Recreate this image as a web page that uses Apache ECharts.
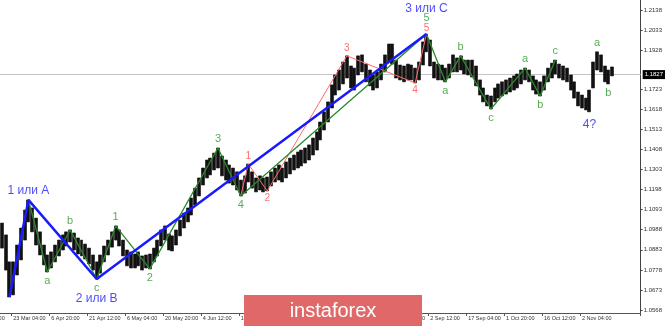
<!DOCTYPE html>
<html><head><meta charset="utf-8">
<script src="https://cdn.jsdelivr.net/npm/echarts@6/dist/echarts.min.js"></script>
<style>html,body{margin:0;padding:0;background:#fff}#c{width:665px;height:326px}</style>
</head><body><div id="c"></div>
<script>
// ---- data ----
const xTickLabels = ['6 Mar 12:00','23 Mar 04:00','6 Apr 20:00','21 Apr 12:00','6 May 04:00','20 May 20:00','4 Jun 12:00','19 Jun 04:00','3 Jul 20:00','20 Jul 12:00','4 Aug 04:00','18 Aug 20:00','2 Sep 12:00','17 Sep 04:00','1 Oct 20:00','16 Oct 12:00','2 Nov 04:00'];
const yTickLabels = [1.2138,1.2033,1.1928,1.1723,1.1618,1.1513,1.1408,1.1303,1.1198,1.1093,1.0988,1.0883,1.0778,1.0673,1.0568];
const currentPrice = 1.1827;
const highs = [1.1023,1.0961,1.0820,1.0820,1.0908,1.0997,1.1091,1.1144,1.1102,1.1049,
1.0977,1.0908,1.0856,1.0872,1.0908,1.0934,1.0961,1.0977,1.0987,1.0971,
1.0945,1.0934,1.0913,1.0892,1.0856,1.0820,1.0856,1.0903,1.0934,1.0977,
1.1008,1.0987,1.0934,1.0882,1.0872,1.0861,1.0872,1.0851,1.0856,1.0861,
1.0892,1.0934,1.0987,1.1008,1.0966,1.0956,1.0987,1.1039,1.1075,1.1102,
1.1154,1.1206,1.1259,1.1311,1.1353,1.1363,1.1389,1.1416,1.1374,1.1353,
1.1327,1.1311,1.1291,1.1248,1.1270,1.1332,1.1291,1.1259,1.1270,1.1259,
1.1264,1.1291,1.1311,1.1327,1.1311,1.1343,1.1363,1.1379,1.1395,1.1405,
1.1416,1.1432,1.1468,1.1500,1.1552,1.1605,1.1657,1.1746,1.1798,1.1824,
1.1866,1.1898,1.1845,1.1834,1.1898,1.1903,1.1855,1.1824,1.1798,1.1814,
1.1855,1.1903,1.1960,1.1960,1.1876,1.1850,1.1845,1.1855,1.1850,1.1834,
1.1866,1.1971,1.2012,1.1981,1.1866,1.1855,1.1850,1.1834,1.1855,1.1903,
1.1887,1.1898,1.1876,1.1876,1.1876,1.1845,1.1772,1.1730,1.1693,1.1688,
1.1730,1.1751,1.1762,1.1772,1.1782,1.1793,1.1803,1.1824,1.1834,1.1824,
1.1793,1.1772,1.1762,1.1793,1.1834,1.1860,1.1876,1.1855,1.1845,1.1834,
1.1798,1.1762,1.1709,1.1693,1.1677,1.1719,1.1866,1.1919,1.1903,1.1845,
1.1824,1.1840];
const lows = [1.0892,1.0777,1.0636,1.0647,1.0751,1.0830,1.0934,1.1029,1.0977,1.0908,
1.0856,1.0804,1.0767,1.0788,1.0820,1.0851,1.0882,1.0903,1.0924,1.0882,
1.0861,1.0851,1.0835,1.0809,1.0777,1.0730,1.0761,1.0820,1.0856,1.0897,
1.0934,1.0903,1.0851,1.0799,1.0788,1.0788,1.0799,1.0777,1.0788,1.0783,
1.0820,1.0851,1.0903,1.0934,1.0882,1.0877,1.0908,1.0956,1.0997,1.1029,
1.1065,1.1118,1.1165,1.1222,1.1259,1.1275,1.1301,1.1311,1.1270,1.1248,
1.1232,1.1222,1.1196,1.1165,1.1180,1.1238,1.1206,1.1186,1.1196,1.1186,
1.1191,1.1217,1.1238,1.1248,1.1238,1.1259,1.1280,1.1301,1.1311,1.1322,
1.1337,1.1353,1.1379,1.1405,1.1458,1.1510,1.1552,1.1625,1.1693,1.1719,
1.1751,1.1782,1.1730,1.1719,1.1798,1.1814,1.1762,1.1741,1.1719,1.1730,
1.1772,1.1814,1.1866,1.1855,1.1782,1.1772,1.1762,1.1772,1.1772,1.1756,
1.1772,1.1850,1.1919,1.1845,1.1782,1.1772,1.1772,1.1762,1.1782,1.1814,
1.1814,1.1824,1.1803,1.1798,1.1787,1.1741,1.1693,1.1657,1.1636,1.1620,
1.1657,1.1677,1.1688,1.1698,1.1709,1.1719,1.1730,1.1751,1.1772,1.1762,
1.1719,1.1698,1.1688,1.1719,1.1762,1.1782,1.1803,1.1782,1.1772,1.1762,
1.1719,1.1677,1.1636,1.1625,1.1615,1.1605,1.1730,1.1824,1.1814,1.1762,
1.1751,1.1793];
const blueWave = [[2,1.0636],[7,1.1144],[25,1.0730],[112,1.2012]];
const greenWave1 = [[7,1.1144],[12,1.0767],[18,1.0987],[25,1.0730],[30,1.1008],[39,1.0783],[57,1.1416],[63,1.1165],[112,1.2012]];
const redWave = [[63,1.1165],[65,1.1332],[70,1.1191],[91,1.1898],[109,1.1756],[112,1.2012]];
const greenWave2 = [[112,1.2012],[117,1.1762],[121,1.1898],[129,1.1620],[138,1.1834],[142,1.1688],[146,1.1876]];
const blueLabels = [[7,1.1144,'1 или A'],[25,1.0730,'2 или B'],[112,1.2012,'3 или C'],[155,1.1605,'4?']];
const greenLabels = [[12,1.0767,'a'],[18,1.0987,'b'],[25,1.0730,'c'],[30,1.1008,'1'],[39,1.0783,'2'],[57,1.1416,'3'],[63,1.1165,'4'],[112,1.2012,'5'],[117,1.1762,'a'],[121,1.1898,'b'],[129,1.1620,'c'],[138,1.1834,'a'],[142,1.1688,'b'],[146,1.1876,'c'],[157,1.1919,'a'],[160,1.1751,'b']];
const redLabels = [[65,1.1332,'1'],[70,1.1191,'2'],[91,1.1898,'3'],[109,1.1756,'4'],[112,1.2012,'5']];

// ---- layout / style ----
const BIN_COUNT = 169, FIRST_LABEL_BIN = -7, LABEL_STEP = 10;
const FONT = 'Liberation Sans, Arial, sans-serif';
const categories = [];
for (let i = 0; i < BIN_COUNT; i++) {
  const j = (i - FIRST_LABEL_BIN) / LABEL_STEP;
  categories.push(Number.isInteger(j) && j < xTickLabels.length ? xTickLabels[j] : '');
}
const candles = highs.map((h, i) => [lows[i], h, lows[i], h]);
const showCat = (idx, val) => val !== '';

const blueDist = {'1 или A':3,'2 или B':13,'3 или C':19,'4?':6};
const greenDist = t => t === '5' ? 10 : 3;
const redDist = t => t === '5' ? 0 : 2;

function labelSeries(list, color, size, distFn) {
  return {
    type: 'scatter', symbolSize: 1, z: 10, silent: true,
    itemStyle: { color: 'rgba(0,0,0,0)' },
    data: list.map(([i, p, t]) => {
      const top = p === highs[i];
      return { value: [i, p], label: { show: true, formatter: t, position: top ? 'top' : 'bottom',
        distance: distFn(t, top), color, fontSize: size, fontFamily: FONT } };
    })
  };
}
function waveLine(data, color, width, z) {
  return { type: 'line', data, symbol: 'none', z, silent: true,
    lineStyle: { color, width }, itemStyle: { color } };
}

const chart = echarts.init(document.getElementById('c'), null, { renderer: 'canvas' });
chart.setOption({
  animation: false,
  backgroundColor: '#fff',
  grid: { left: 0, right: 24, top: 0, bottom: 13, containLabel: false },
  xAxis: {
    type: 'category', data: categories, boundaryGap: true,
    axisLine: { lineStyle: { color: '#555', width: 1 } },
    axisTick: { show: true, interval: showCat, length: 3, lineStyle: { color: '#555' } },
    axisLabel: { interval: showCat, align: 'left', margin: 2, fontSize: 5.5, color: '#333', fontFamily: FONT },
    splitLine: { show: false }
  },
  yAxis: {
    type: 'value', position: 'right', min: 1.05523, max: 1.21903, scale: true,
    axisLine: { show: true, lineStyle: { color: '#444', width: 1 } },
    axisTick: { show: true, length: 2, customValues: yTickLabels, lineStyle: { color: '#444' } },
    axisLabel: { customValues: yTickLabels, formatter: v => v.toFixed(4), margin: 3, fontSize: 6, color: '#333', fontFamily: FONT },
    splitLine: { show: false }
  },
  series: [
    {
      type: 'candlestick', data: candles, barWidth: '92%', z: 2, silent: true,
      itemStyle: { color: '#111', color0: '#111', borderColor: '#111', borderColor0: '#111', borderWidth: 0.6 },
      markLine: {
        silent: true, symbol: 'none', z: 1,
        lineStyle: { color: '#c4c4c4', width: 1, type: 'solid' },
        label: { position: 'end', formatter: () => currentPrice.toFixed(4), backgroundColor: '#000', color: '#fff',
          fontSize: 6, padding: [2, 2, 1, 2], distance: 2, fontFamily: FONT },
        data: [{ yAxis: currentPrice }]
      }
    },
    waveLine(redWave, '#ff6b6b', 1, 4),
    waveLine(greenWave1, '#2a8a2a', 1.3, 5),
    waveLine(greenWave2, '#2a8a2a', 1.3, 5),
    waveLine(blueWave, '#1a1aff', 2.5, 6),
    labelSeries(greenLabels, '#2f962f', 11, greenDist),
    labelSeries(redLabels, '#ff4a4a', 10, redDist),
    labelSeries(blueLabels, '#1a1aff', 12, t => blueDist[t])
  ]
});

// the tick label that lies before the first category (only its tail is visible)
const x3 = chart.convertToPixel({ xAxisIndex: 0 }, 3);
const x13 = chart.convertToPixel({ xAxisIndex: 0 }, 13);
const binW = (x13 - x3) / 10;
chart.setOption({
  graphic: [
    { type: 'text', z: 50, style: { text: xTickLabels[0], x: x3 - LABEL_STEP * binW, y: 315, font: '5.5px ' + FONT, fill: '#333', align: 'left', verticalAlign: 'top' } },
    { type: 'rect', z: 100, shape: { x: 244, y: 295, width: 178, height: 31 }, style: { fill: '#e16868' } },
    { type: 'text', z: 101, style: { text: 'instaforex', x: 333, y: 311, font: '20px ' + FONT, fill: '#fff', align: 'center', verticalAlign: 'middle' } }
  ]
});
</script></body></html>
